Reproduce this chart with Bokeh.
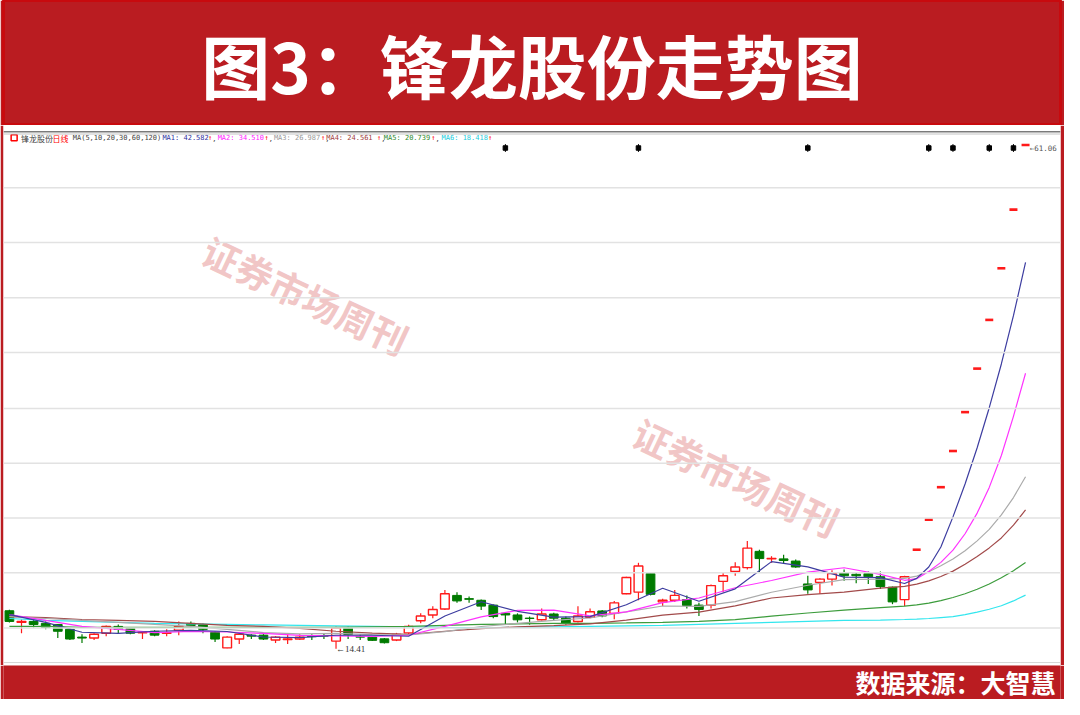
from bokeh.plotting import figure
from bokeh.layouts import column
from bokeh.models import Range1d, Span
from bokeh.core.properties import value
from bokeh.embed import file_html
from bokeh.resources import INLINE

# ---------------- data (daily bars) ----------------
open_ = [17.94, 16.86, 16.95, 16.77, 16.67, 16.22, 15.50, 15.41, 15.86, 16.49,
         16.31, 15.90, 16.04, 15.86, 16.13, 16.77, 16.67, 15.95, 14.50, 15.32,
         15.68, 15.68, 15.23, 15.27, 15.32, 15.59, 15.63, 15.13, 16.34, 15.54,
         15.50, 15.34, 15.23, 15.89, 17.01, 17.55, 18.10, 19.36, 19.06, 18.91,
         18.46, 17.70, 17.55, 17.26, 17.10, 17.64, 17.25, 16.95, 17.34, 17.92,
         17.70, 19.51, 19.66, 21.38, 18.76, 18.91, 18.98, 18.46, 18.46, 20.66,
         21.57, 21.93, 23.44, 22.74, 22.74, 22.54, 20.42, 20.57, 20.87, 21.48,
         21.32, 21.38, 21.09, 20.12, 18.97, 23.59, 26.37, 29.38, 32.73, 36.33,
         40.36, 44.87, 49.65, 55.08, 61.06]
high = [18.03, 17.13, 17.22, 16.95, 16.72, 16.31, 15.77, 15.86, 16.58, 16.67,
        16.40, 16.04, 16.13, 16.22, 16.95, 16.95, 16.77, 16.04, 15.59, 15.86,
        15.77, 15.77, 15.59, 15.77, 15.77, 15.77, 15.86, 16.49, 16.49, 15.77,
        15.59, 15.41, 15.89, 16.65, 17.70, 18.36, 19.87, 19.66, 19.27, 18.97,
        18.51, 17.70, 17.70, 17.40, 18.15, 17.76, 17.40, 18.36, 18.15, 18.01,
        18.85, 21.09, 22.38, 21.48, 19.06, 19.87, 19.36, 18.67, 20.36, 21.48,
        22.44, 24.40, 23.59, 22.99, 23.13, 22.68, 21.18, 20.96, 21.68, 21.77,
        21.48, 21.57, 21.57, 20.18, 21.18, 23.59, 26.37, 29.38, 32.73, 36.33,
        40.36, 44.87, 49.65, 55.08, 61.06]
low = [16.86, 15.86, 16.40, 16.22, 15.41, 15.23, 14.95, 15.23, 15.59, 15.86,
       15.77, 15.32, 15.59, 15.59, 15.68, 16.40, 15.86, 15.04, 14.46, 14.86,
       15.32, 15.23, 14.95, 14.86, 15.23, 15.23, 15.32, 14.41, 15.32, 15.23,
       15.13, 14.91, 15.13, 15.74, 16.79, 17.25, 18.01, 18.67, 18.67, 18.01,
       17.25, 16.65, 16.86, 16.65, 17.04, 17.04, 16.65, 16.86, 17.25, 17.34,
       17.15, 19.46, 18.91, 19.36, 18.37, 18.76, 18.15, 17.46, 18.15, 19.66,
       21.18, 21.77, 21.48, 22.38, 22.29, 21.93, 19.51, 19.51, 20.27, 20.72,
       20.48, 20.42, 19.96, 18.55, 18.37, 23.59, 26.37, 29.38, 32.73, 36.33,
       40.36, 44.87, 49.65, 55.08, 61.06]
close = [16.95, 16.95, 16.67, 16.40, 16.04, 15.32, 15.41, 15.77, 16.49, 16.22,
         15.86, 15.95, 15.68, 15.90, 16.49, 16.58, 16.22, 15.32, 15.50, 15.77,
         15.59, 15.32, 15.50, 15.32, 15.50, 15.54, 15.59, 16.34, 15.74, 15.50,
         15.20, 14.98, 15.74, 16.49, 17.46, 18.06, 19.51, 18.85, 19.00, 18.37,
         17.40, 17.55, 17.10, 17.22, 17.64, 17.25, 16.79, 17.46, 17.85, 17.46,
         18.67, 21.02, 22.08, 19.46, 18.91, 19.36, 18.42, 18.06, 20.27, 21.18,
         21.99, 23.74, 22.77, 22.79, 22.59, 21.99, 19.87, 20.87, 21.38, 21.18,
         21.18, 21.09, 20.18, 18.76, 21.09, 23.59, 26.37, 29.38, 32.73, 36.33,
         40.36, 44.87, 49.65, 55.08, 61.06]
day = list(range(len(close)))

# moving-average lines at these bars
ma_day = [0, 3, 6, 9, 12, 15, 18, 21, 24, 27, 30, 33, 36, 39, 42, 45, 48, 51,
          54, 57, 60, 63, 66, 69, 72, 74, 75, 76, 77, 78, 79, 80, 81, 82, 83, 84]
ma1 = [17.58, 16.86, 15.95, 15.84, 16.04, 16.12, 16.02, 15.51, 15.45, 15.67,
       15.67, 15.58, 17.45, 18.77, 17.89, 17.35, 17.40, 18.50, 20.02, 18.82,
       19.97, 22.49, 22.00, 21.06, 21.00, 20.46, 20.94, 21.99, 23.84, 26.63,
       29.68, 33.03, 36.74, 40.79, 45.26, 50.20]
ma2 = [17.58, 17.04, 16.49, 16.22, 15.91, 16.03, 15.97, 15.84, 15.66, 15.61,
       15.56, 15.67, 16.50, 17.37, 17.98, 17.99, 17.46, 17.84, 18.69, 19.12,
       20.07, 20.74, 21.52, 21.92, 21.31, 20.76, 20.91, 21.57, 22.42, 23.55,
       25.07, 26.98, 29.36, 32.31, 35.94, 39.93]
ma3 = [17.40, 17.22, 17.04, 16.86, 16.67, 16.49, 16.22, 15.92, 15.79, 15.84,
       15.73, 15.71, 16.00, 16.48, 16.77, 17.05, 17.27, 17.84, 18.38, 18.35,
       18.79, 19.65, 20.30, 20.82, 20.86, 20.94, 21.15, 21.55, 22.11, 22.73,
       23.50, 24.41, 25.47, 26.81, 28.42, 30.35]
ma4 = [17.40, 17.31, 17.13, 17.04, 16.95, 16.77, 16.58, 16.49, 16.31, 16.04,
       15.86, 15.76, 16.04, 16.29, 16.45, 16.56, 16.73, 17.07, 17.54, 17.82,
       18.39, 19.12, 19.44, 19.67, 20.03, 20.19, 20.40, 20.71, 21.11, 21.61,
       22.25, 22.96, 23.76, 24.68, 25.87, 27.27]
ma5 = [16.49, 16.49, 16.40, 16.40, 16.40, 16.40, 16.40, 16.40, 16.40, 16.40,
       16.45, 16.49, 16.58, 16.67, 16.72, 16.77, 16.77, 16.81, 16.86, 16.95,
       17.12, 17.44, 17.73, 17.99, 18.23, 18.36, 18.48, 18.65, 18.88, 19.17,
       19.51, 19.93, 20.42, 20.99, 21.65, 22.41]
ma6 = [17.22, 17.04, 16.95, 16.86, 16.77, 16.72, 16.67, 16.63, 16.58, 16.54,
       16.49, 16.45, 16.40, 16.36, 16.40, 16.45, 16.49, 16.54, 16.58, 16.67,
       16.77, 16.86, 16.95, 17.04, 17.08, 17.13, 17.17, 17.22, 17.31, 17.40,
       17.58, 17.81, 18.08, 18.40, 18.85, 19.39]
ma_names = ["MA1", "MA2", "MA3", "MA4", "MA5", "MA6"]
ma_legend_values = ["42.582", "34.510", "26.987", "24.561", "20.739", "18.418"]

event_day = [41, 52, 66, 76, 78, 81, 83]          # small info markers on top row
grid_levels = [16.34, 21.45, 26.52, 31.59, 36.67, 41.86, 46.93, 52.03, 57.10]

title_text = "图3：锋龙股份走势图"
source_text = "数据来源：大智慧"
stock_name = "锋龙股份"
period_text = "日线"
ma_spec = "MA(5,10,20,30,60,120)"
watermark = "证券市场周刊"

# ---------------- styling ----------------
FRAME_RED = "#BA1C21"
UP = "#FF1A1A"
DOWN = "#007A00"
MA_COLORS = ["#3D3DA0", "#FF33FF", "#ABABAB", "#A24A4A", "#3C9C3C", "#33E6EE"]
MA_TEXT_COLORS = ["#3030A0", "#FF22FF", "#999999", "#A04040", "#2E8B2E", "#22CCDD"]
CJK = value("Noto Sans CJK SC")
MONO = value("DejaVu Sans Mono")

W = 1064
# reference layout helpers (reference pixel -> data units of the chart panel)
def bx(px):
    return (px - 9.0) / 12.28

def py(yref):
    return 14.41 + (663.0 - yref) / 11.04

# ---------------- title banner ----------------
t = figure(width=W, height=125, output_backend="svg", toolbar_location=None,
           x_range=Range1d(0, 1080), y_range=Range1d(0, 128), title=None,
           x_axis_location=None, y_axis_location=None, min_border=0,
           background_fill_color=FRAME_RED, border_fill_color=FRAME_RED,
           outline_line_color="#C80A0E", outline_line_width=3)
t.grid.visible = False
t.text(x=[540], y=[128 - 65], text=[title_text], text_font=CJK,
       text_font_style="bold", text_font_size="69px", text_color="white",
       text_align="center", text_baseline="middle")

# ---------------- chart panel ----------------
p = figure(width=W, height=540, output_backend="svg", toolbar_location=None,
           x_range=Range1d(bx(3), bx(1076)), y_range=Range1d(py(680), py(128)),
           title=None, x_axis_location=None, y_axis_location=None,
           min_border_left=3, min_border_right=4, min_border_top=0, min_border_bottom=0,
           background_fill_color="white", border_fill_color=FRAME_RED,
           outline_line_color=None)
p.grid.visible = False

for lv in grid_levels:
    p.add_layout(Span(location=lv, dimension="width", line_color="#e2e2e2", line_width=1.5))
p.add_layout(Span(location=py(134.5), dimension="width", line_color="#7a7a7a", line_width=1.5))
p.add_layout(Span(location=py(136.7), dimension="width", line_color="#c4c4c4", line_width=1))
p.add_layout(Span(location=py(677), dimension="width", line_color="#d4d4d4", line_width=1))

# watermarks
p.text(x=[bx(310), bx(747)], y=[py(301), py(487)], text=[watermark, watermark],
       angle=-0.44, text_font=CJK, text_font_style="bold", text_font_size="37px",
       text_color="#E9A0A0", text_alpha=0.6, text_align="center", text_baseline="middle")

up = [i for i in day if close[i] > open_[i]]
down = [i for i in day if close[i] < open_[i]]
flat = [i for i in day if close[i] == open_[i]]

p.segment(x0=down, y0=[high[i] for i in down], x1=down, y1=[low[i] for i in down],
          line_color=DOWN, line_width=1.2)
p.segment(x0=up, y0=[high[i] for i in up], x1=up, y1=[low[i] for i in up],
          line_color=UP, line_width=1.2)
p.vbar(x=down, top=[open_[i] for i in down], bottom=[close[i] for i in down], width=0.72,
       fill_color=DOWN, line_color=DOWN, line_width=1)
p.vbar(x=up, top=[close[i] for i in up], bottom=[open_[i] for i in up], width=0.72,
       fill_color="white", line_color=UP, line_width=1.4)
p.segment(x0=[i - 0.33 for i in flat], y0=[close[i] for i in flat],
          x1=[i + 0.33 for i in flat], y1=[close[i] for i in flat],
          line_color=UP, line_width=2.6)

for series, col in reversed(list(zip([ma1, ma2, ma3, ma4, ma5, ma6], MA_COLORS))):
    p.line(ma_day, series, line_color=col, line_width=1.2)

# top legend row
p.scatter(x=[bx(13.8)], y=[py(140.5)], marker="square", size=6, fill_color="white",
          line_color="#FF0000", line_width=1.5)
p.text(x=[bx(20.7), bx(52.7)], y=[py(141)] * 2, text=[stock_name, period_text],
       text_color=["#444444", "#FF0000"], text_font=CJK, text_font_size="8px",
       text_baseline="middle")
lab_x = [164.3, 220.4, 277.5, 330.6, 389.1, 447.7]
arr_x = [210.7, 268.0, 325.4, 382.2, 437.3, 494.8]
mx, mt, mc = [bx(73.3)], [ma_spec], ["#444444"]
for k in range(6):
    mx.append(bx(lab_x[k])); mt.append(f"{ma_names[k]}: {ma_legend_values[k]}"); mc.append(MA_TEXT_COLORS[k])
    mx.append(bx(arr_x[k])); mt.append("↑"); mc.append("#FF0000")
    if k < 5:
        mx.append(bx(arr_x[k] + 4.2)); mt.append(","); mc.append("#444444")
p.text(x=mx, y=[py(141)] * len(mx), text=mt, text_color=mc, text_font=MONO,
       text_font_size="7px", text_baseline="middle")

# info markers
p.segment(x0=event_day, y0=[py(147)] * len(event_day), x1=event_day, y1=[py(155)] * len(event_day),
          line_color="black", line_width=1)
p.scatter(x=event_day, y=[py(151)] * len(event_day), marker="square", size=4.5,
          fill_color="black", line_color="black")

# high / low labels
hi_i = max(day, key=lambda i: high[i])
lo_i = min(day, key=lambda i: low[i])
p.text(x=[hi_i + 0.35], y=[high[hi_i]], text=[f"←{high[hi_i]:.2f}"], text_font=MONO,
       text_font_size="7.5px", text_color="#555555", text_baseline="middle", y_offset=3)
p.text(x=[lo_i], y=[low[lo_i]], text=[f"←{low[lo_i]:.2f}"], text_font=value("Liberation Serif"),
       text_font_size="9px", text_color="#333333", text_baseline="middle")

# ---------------- footer ----------------
f = figure(width=W, height=34, output_backend="svg", toolbar_location=None,
           x_range=Range1d(0, 1080), y_range=Range1d(0, 35), title=None,
           x_axis_location=None, y_axis_location=None, min_border=0,
           background_fill_color=FRAME_RED, border_fill_color=FRAME_RED,
           outline_line_color=None)
f.grid.visible = False
f.text(x=[1075], y=[715 - 697], text=[source_text], text_font=CJK, text_font_style="bold",
       text_font_size="25px", text_color="white", text_align="right", text_baseline="middle")

layout = column(t, p, f, spacing=0)
open("out.html", "w").write(file_html(layout, INLINE))
